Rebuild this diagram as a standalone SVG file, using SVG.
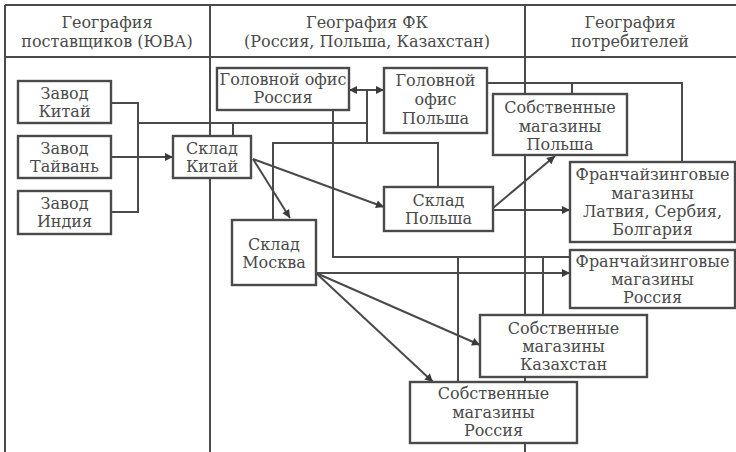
<svg xmlns="http://www.w3.org/2000/svg" width="736" height="452" viewBox="0 0 736 452">
<defs>
<style>
.frame{fill:none;stroke:#4a4a4a;stroke-width:2}
.box{fill:#fff;stroke:#4a4a4a;stroke-width:2.4}
.ln{fill:none;stroke:#4a4a4a;stroke-width:2}
text{font-family:"DejaVu Serif","Liberation Serif",serif;font-size:16px;fill:#4a4a4a;text-anchor:middle}
</style>
<marker id="ah" viewBox="0 0 10 10" refX="10" refY="5" markerWidth="10" markerHeight="8" markerUnits="userSpaceOnUse" orient="auto-start-reverse">
<path d="M0,0 L10,5 L0,10 Z" fill="#3a3a3a"/>
</marker>
</defs>
<rect width="736" height="452" fill="#fff"/>
<g id="frame">
<line class="frame" x1="5" y1="5" x2="736" y2="5"/>
<line class="frame" x1="5" y1="57" x2="736" y2="57"/>
<line class="frame" x1="5" y1="5" x2="5" y2="452"/>
<line class="frame" x1="210" y1="5" x2="210" y2="452"/>
<line class="frame" x1="525" y1="5" x2="525" y2="452"/>
</g>
<g id="headers">
<text x="107" y="28">География</text>
<text x="107" y="47">поставщиков (ЮВА)</text>
<text x="367" y="28">География ФК</text>
<text x="367" y="47">(Россия, Польша, Казахстан)</text>
<text x="630" y="28">География</text>
<text x="630" y="47">потребителей</text>
</g>
<g id="connectors">
<polyline class="ln" points="111,103 138,103 138,212 111,212"/>
<line class="ln" x1="111" y1="157" x2="173" y2="157" marker-end="url(#ah)"/>
<line class="ln" x1="138" y1="123" x2="367" y2="123"/>
<line class="ln" x1="233" y1="123" x2="233" y2="136"/>
<line class="ln" x1="367" y1="90" x2="367" y2="143"/>
<line class="ln" x1="349" y1="90" x2="384" y2="90" marker-start="url(#ah)" marker-end="url(#ah)"/>
<polyline class="ln" points="333,110 333,257 570,257"/>
<polyline class="ln" points="273,220 273,143 438,143 438,187"/>
<line class="ln" x1="458" y1="257" x2="458" y2="382"/>
<line class="ln" x1="543" y1="257" x2="543" y2="315"/>
<polyline class="ln" points="487,83 682,83 682,162"/>
<line class="ln" x1="572" y1="83" x2="572" y2="94"/>
<line class="ln" x1="253" y1="159" x2="290" y2="218" marker-end="url(#ah)"/>
<line class="ln" x1="253" y1="159" x2="384" y2="207" marker-end="url(#ah)"/>
<line class="ln" x1="493" y1="208" x2="555" y2="156" marker-end="url(#ah)"/>
<line class="ln" x1="493" y1="210" x2="570" y2="210" marker-end="url(#ah)"/>
<line class="ln" x1="316" y1="273" x2="570" y2="273" marker-end="url(#ah)"/>
<line class="ln" x1="316" y1="273" x2="480" y2="345" marker-end="url(#ah)"/>
<line class="ln" x1="316" y1="273" x2="433" y2="382" marker-end="url(#ah)"/>
</g>
<g id="zavod-kitai"><rect class="box" x="18" y="81" width="93" height="42"/><text x="64.5" y="99">Завод</text><text x="64.5" y="117">Китай</text></g>
<g id="zavod-taivan"><rect class="box" x="18" y="136" width="93" height="42"/><text x="64.5" y="154">Завод</text><text x="64.5" y="172">Тайвань</text></g>
<g id="zavod-india"><rect class="box" x="18" y="191" width="93" height="43"/><text x="64.5" y="209">Завод</text><text x="64.5" y="227">Индия</text></g>
<g id="sklad-kitai"><rect class="box" x="173" y="136" width="78" height="42"/><text x="212" y="154">Склад</text><text x="212" y="172">Китай</text></g>
<g id="office-russia"><rect class="box" x="217" y="68" width="132" height="42"/><text x="283" y="85">Головной офис</text><text x="283" y="103">Россия</text></g>
<g id="office-poland"><rect class="box" x="384" y="68" width="103" height="65"/><text x="435.5" y="86">Головной</text><text x="435.5" y="105">офис</text><text x="435.5" y="124">Польша</text></g>
<g id="own-poland"><rect class="box" x="493" y="94" width="134" height="61"/><text x="560" y="113">Собственные</text><text x="560" y="132">магазины</text><text x="560" y="150">Польша</text></g>
<g id="sklad-poland"><rect class="box" x="384" y="187" width="109" height="44"/><text x="438.5" y="206">Склад</text><text x="438.5" y="224">Польша</text></g>
<g id="sklad-moscow"><rect class="box" x="232" y="220" width="84" height="65"/><text x="274" y="250">Склад</text><text x="274" y="268">Москва</text></g>
<g id="franch-latvia"><rect class="box" x="570" y="162" width="165" height="80"/><text x="652.5" y="180">Франчайзинговые</text><text x="652.5" y="199">магазины</text><text x="652.5" y="217">Латвия, Сербия,</text><text x="652.5" y="235">Болгария</text></g>
<g id="franch-russia"><rect class="box" x="570" y="250" width="165" height="58"/><text x="652.5" y="267">Франчайзинговые</text><text x="652.5" y="285">магазины</text><text x="652.5" y="303">Россия</text></g>
<g id="own-kazakhstan"><rect class="box" x="480" y="315" width="167" height="62"/><text x="563.5" y="334">Собственные</text><text x="563.5" y="352">магазины</text><text x="563.5" y="370">Казахстан</text></g>
<g id="own-russia"><rect class="box" x="410" y="382" width="167" height="61"/><text x="493.5" y="399">Собственные</text><text x="493.5" y="418">магазины</text><text x="493.5" y="436">Россия</text></g>
</svg>
